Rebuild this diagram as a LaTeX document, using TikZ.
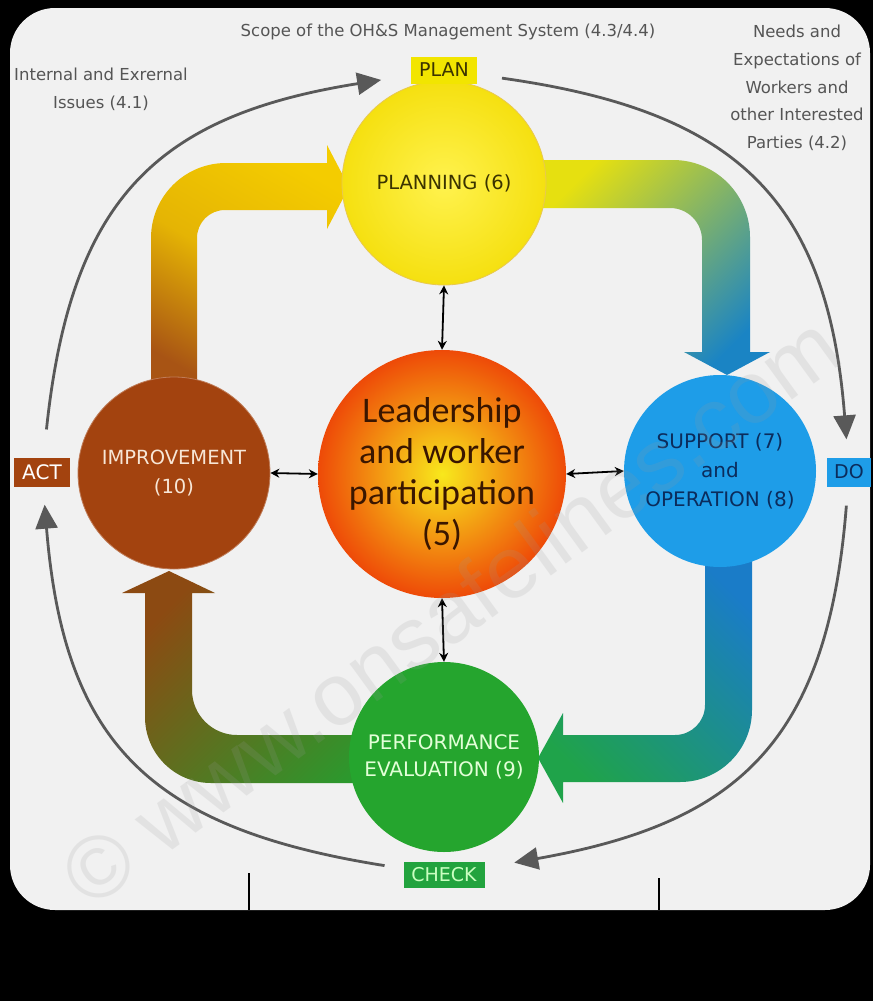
\documentclass[tikz,border=0pt]{standalone}
\usepackage{fontspec}
\setmainfont{DejaVu Sans}
\newfontfamily\carl{Carlito}
\newfontfamily\lib{Liberation Sans}
\usetikzlibrary{arrows.meta}
\definecolor{bggray}{HTML}{F1F1F1}
\definecolor{cycgray}{HTML}{595959}
\definecolor{txtgray}{HTML}{555555}
\definecolor{planin}{HTML}{FFF24E}
\definecolor{planout}{HTML}{F5E010}
\definecolor{planedge}{HTML}{E8C850}
\definecolor{plantxt}{HTML}{3A3300}
\definecolor{leadin}{HTML}{F8E81C}
\definecolor{leadout}{HTML}{EE4A08}
\definecolor{leadtxt}{HTML}{3A1600}
\definecolor{impr}{HTML}{A3430F}
\definecolor{imprtxt}{HTML}{F7E6D6}
\definecolor{supp}{HTML}{1E9DE8}
\definecolor{supptxt}{HTML}{0B2C5C}
\definecolor{perf}{HTML}{25A52E}
\definecolor{perftxt}{HTML}{E3FFD8}
\definecolor{planbox}{HTML}{F2E500}
\definecolor{checkbox}{HTML}{22A33E}
\definecolor{checktxt}{HTML}{C9FFC0}
\definecolor{bandyel}{HTML}{F4CC00}
\definecolor{bandbrown}{HTML}{A85414}
\definecolor{bandlime}{HTML}{E6E010}
\definecolor{bandblue}{HTML}{1A84C4}
\definecolor{bandblue2}{HTML}{1A7CC8}
\definecolor{bandgreen}{HTML}{1FA34A}
\definecolor{bandbrown2}{HTML}{8C4A12}
\definecolor{bandgreen2}{HTML}{22A030}
\definecolor{wmgray}{HTML}{9A9A9A}
\tikzset{
  circ/.style={circle, inner sep=0pt, align=center},
  boxlbl/.style={rectangle, inner sep=0pt, minimum height=27pt, font=\fontsize{19}{22}\selectfont},
  smalltxt/.style={text=txtgray, font=\fontsize{16.5}{27.8}\selectfont, align=center},
  cyc/.style={draw=cycgray, line width=2.8pt, -{Triangle[length=24pt,width=22pt]}, looseness=1.25},
  dbl/.style={draw=black, line width=1.8pt, {Stealth[length=9pt,width=9pt]}-{Stealth[length=9pt,width=9pt]}},
}
\begin{document}
\begin{tikzpicture}[x=1pt,y=1pt]
\useasboundingbox (0,0) rectangle (873,-1001);
\fill[black] (0,0) rectangle (873,-1001);
\fill[bggray, rounded corners=45pt] (10,-8) rectangle (870,-910);
% ticks
\draw[black, line width=2pt] (249,-873) -- (249,-910);
\draw[black, line width=2pt] (659,-878) -- (659,-910);

% band 1 : improvement -> planning
\shade[top color=bandyel, bottom color=bandbrown, middle color=bandyel!80!bandbrown, shading angle=-30]
 (151,-400) -- (151,-238) .. controls (151,-196.6) and (184.6,-163) .. (226,-163) -- (327,-163) -- (327,-145) -- (349,-187) -- (327,-229) -- (327,-210) -- (225,-210) .. controls (209.5,-210) and (197,-222.5) .. (197,-238) -- (197,-400) -- cycle;
% band 2 : planning -> support
\shade[top color=bandlime, bottom color=bandblue, shading angle=45]
 (530,-160) -- (673,-160) .. controls (715.5,-160) and (750,-194.5) .. (750,-237) -- (750,-352) -- (770,-352) -- (727,-375) -- (684,-352) -- (702,-352) -- (702,-240) .. controls (702,-222.3) and (687.7,-208) .. (670,-208) -- (530,-208) -- cycle;
% band 3 : support -> performance
\shade[top color=bandblue2, bottom color=bandgreen, shading angle=-45]
 (705,-540) -- (752,-540) -- (752,-710) .. controls (752,-749.7) and (719.7,-782) .. (680,-782) -- (563,-782) -- (563,-803) -- (538,-758) -- (563,-713) -- (563,-735) -- (675,-735) .. controls (691.6,-735) and (705,-721.6) .. (705,-705) -- cycle;
% band 4 : performance -> improvement
\shade[top color=bandbrown2, bottom color=bandgreen2, shading angle=45]
 (460,-783) -- (211,-783) .. controls (174.6,-783) and (145,-753.4) .. (145,-717) -- (145,-593) -- (122,-593) -- (169,-571) -- (215,-593) -- (192,-593) -- (192,-690) .. controls (192,-714.8) and (212.2,-735) .. (237,-735) -- (460,-735) -- cycle;

% circles
\node[circ, minimum size=204pt, shade, inner color=planin, outer color=planout, draw=planedge, line width=0.8pt,
  text=plantxt, font=\fontsize{19.5}{22}\selectfont] (planning) at (444,-183) {PLANNING (6)};
\node[circ, minimum size=248pt, shade, inner color=leadin, outer color=leadout,
  text=leadtxt, font=\carl\fontsize{36}{41}\selectfont] (leader) at (442,-474) {Leadership\\and worker\\participation\\(5)};
\node[circ, minimum size=192pt, fill=impr, draw=impr!70!white, line width=0.8pt,
  text=imprtxt, font=\fontsize{19.5}{29}\selectfont] (improve) at (174,-473) {IMPROVEMENT\\(10)};
\node[circ, minimum size=192pt, fill=supp,
  text=supptxt, font=\fontsize{20}{29}\selectfont] (support) at (720,-471) {SUPPORT (7)\\and\\OPERATION (8)};
\node[circ, minimum size=190pt, fill=perf,
  text=perftxt, font=\fontsize{20}{27}\selectfont] (perform) at (444,-757) {PERFORMANCE\\EVALUATION (9)};

% double arrows
\draw[dbl] (planning.south) -- (leader.north);
\draw[dbl] (improve.east) -- (leader.west);
\draw[dbl] (leader.east) -- (support.west);
\draw[dbl] (leader.south) -- (perform.north);

% PDCA labels
\node[boxlbl, fill=planbox, minimum width=66pt, text=plantxt] (plan) at (444,-70) {PLAN};
\node[boxlbl, fill=impr, minimum width=56pt, minimum height=29pt, text=white, font=\fontsize{20}{22}\selectfont] (act) at (42,-472) {ACT};
\node[boxlbl, fill=supp, minimum width=44pt, minimum height=29pt, text=supptxt] (do) at (849,-472) {DO};
\node[boxlbl, fill=checkbox, minimum width=81pt, minimum height=26pt, text=checktxt] (check) at (444,-875) {CHECK};

% outer cycle
\draw[cyc, shorten <=28pt, shorten >=30pt] (act) to[out=84, in=189] (plan);
\draw[cyc, shorten <=25pt, shorten >=18pt] (plan) to[out=-8, in=94.5] (do);
\draw[cyc, shorten <=19pt, shorten >=30pt] (do) to[out=-94.5, in=10] (check);
\draw[cyc, shorten <=19pt, shorten >=18pt] (check) to[out=171, in=-85.4] (act);

% texts
\node[smalltxt] (scope) at (448,-32) {Scope of the OH\&S Management System (4.3/4.4)};
\node[smalltxt] (issues) at (101,-89) {Internal and Exrernal\\Issues (4.1)};
\node[smalltxt] (needs) at (797,-88) {Needs and\\Expectations of\\Workers and\\other Interested\\Parties (4.2)};

% watermark
\node[rotate=36, text=wmgray, opacity=0.17, font=\lib\fontsize{88}{88}\selectfont] (wm) at (450,-610) {© www.onsafelines.com};
\end{tikzpicture}
\end{document}
